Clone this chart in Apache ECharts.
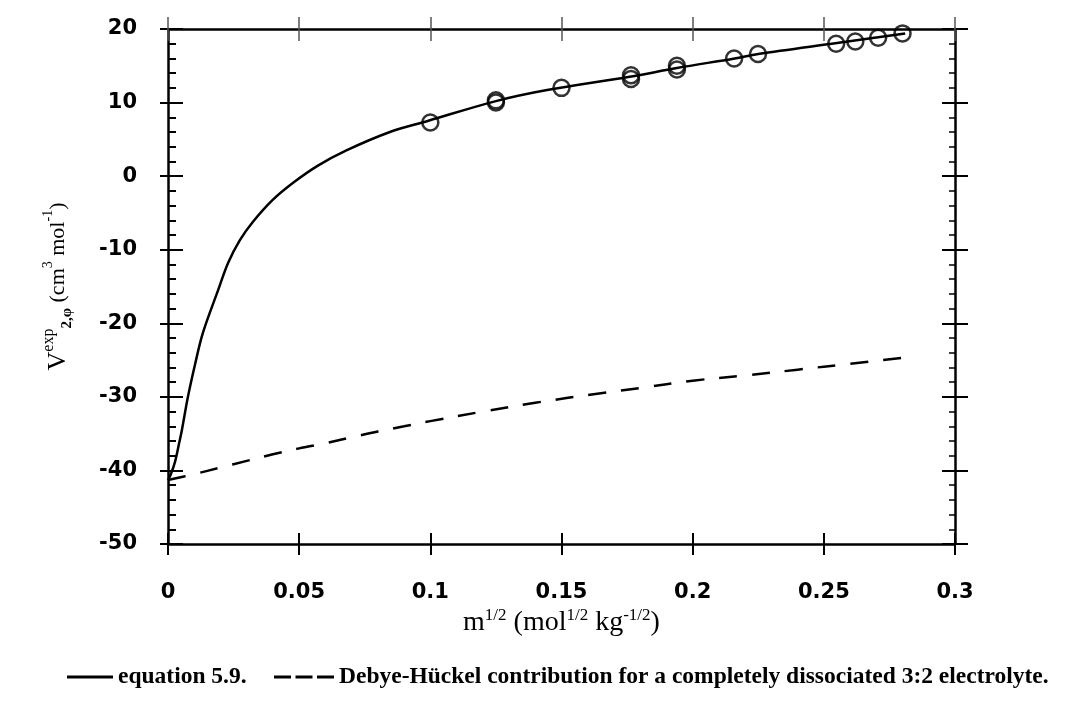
<!DOCTYPE html>
<html>
<head>
<meta charset="utf-8">
<script src="https://cdn.jsdelivr.net/npm/echarts@6/dist/echarts.min.js"></script>
<style>
html,body{margin:0;padding:0;background:#fff;}
#chart{width:1075px;height:707px;}
</style>
</head>
<body>
<div id="chart"></div>
<script>
// ---- data ----
const solidName = 'equation 5.9.';
const dashName = 'Debye-Hückel contribution for a completely dissociated 3:2 electrolyte.';

const solidX = [0, 0.001, 0.0027, 0.004, 0.0053, 0.0076, 0.0103, 0.0133, 0.0191, 0.0229, 0.0274, 0.0324, 0.040, 0.0477, 0.057, 0.068, 0.0846, 0.099, 0.125, 0.1445, 0.176, 0.194, 0.216, 0.225, 0.255, 0.281];
const solidY = [-41.3, -40.6, -38.8, -36.7, -34.5, -30.0, -25.6, -21.3, -15.5, -11.8, -8.7, -6.2, -3.2, -0.9, 1.4, 3.5, 6.0, 7.5, 10.2, 11.7, 13.5, 14.7, 16.0, 16.6, 18.1, 19.4];

const dashX = [0, 0.01, 0.02, 0.03, 0.04, 0.05, 0.06, 0.07, 0.08, 0.09, 0.10, 0.12, 0.14, 0.165, 0.18, 0.20, 0.22, 0.24, 0.26, 0.28];
const dashY = [-41.3, -40.5, -39.6, -38.7, -37.8, -37.0, -36.3, -35.5, -34.7, -34.0, -33.3, -32.0, -30.8, -29.5, -28.8, -27.8, -27.1, -26.3, -25.5, -24.7];

const pointX = [0.1, 0.125, 0.125, 0.15, 0.1765, 0.1765, 0.194, 0.194, 0.2158, 0.2249, 0.2547, 0.262, 0.2707, 0.280];
const pointY = [7.3, 10.0, 10.3, 12.0, 13.2, 13.7, 14.5, 15.0, 16.0, 16.6, 18.0, 18.3, 18.8, 19.4];

const xTickLabels = ['0', '0.05', '0.1', '0.15', '0.2', '0.25', '0.3'];
const yTickLabels = ['-50', '-40', '-30', '-20', '-10', '0', '10', '20'];

const zip = (a, b) => a.map((v, i) => [v, b[i]]);

const serif = 'Liberation Serif';
const sans = 'DejaVu Sans';

const xBase = {type: 'value', min: 0, max: 0.3, interval: 0.05, splitLine: {show: false}};
const yBase = {type: 'value', min: -50, max: 20, interval: 10, splitLine: {show: false}};
const axisLine = {show: true, onZero: false, lineStyle: {color: '#000', width: 2.5}};
const noLine = {show: false, onZero: false};

const legendText = {fontFamily: serif, fontWeight: 'bold', fontSize: 23.5, color: '#000'};

const chart = echarts.init(document.getElementById('chart'));
chart.setOption({
  animation: false,
  backgroundColor: '#fff',
  grid: {left: 168, right: 120, top: 29, bottom: 163, containLabel: false},
  legend: [
    {
      left: 67, top: 665, padding: 0, itemWidth: 46, itemHeight: 3, selectedMode: false,
      data: [{name: solidName, icon: 'path://M0,0H46V3H0Z'}],
      textStyle: legendText
    },
    {
      left: 274, top: 665, padding: 0, itemWidth: 60, itemHeight: 3, selectedMode: false,
      data: [{name: dashName, icon: 'path://M0,0H17V3H0Z M21.5,0H38.5V3H21.5Z M43,0H60V3H43Z'}],
      textStyle: legendText
    }
  ],
  xAxis: [
    Object.assign({}, xBase, {
      position: 'bottom',
      axisLine: axisLine,
      axisTick: {show: true, inside: true, length: 11, lineStyle: {color: '#000', width: 2}},
      axisLabel: {
        margin: 38, color: '#000', fontFamily: sans, fontWeight: 'bold', fontSize: 21,
        formatter: v => xTickLabels[Math.round(v / 0.05)]
      },
      name: '{n|m}{s|1/2}{n| (mol}{s|1/2}{n| kg}{s|-1/2}{n|)}',
      nameLocation: 'middle', nameGap: 63, nameMoveOverlap: false,
      nameTextStyle: {
        fontFamily: serif, fontSize: 28, color: '#000',
        rich: {
          n: {fontFamily: serif, fontSize: 28, lineHeight: 32, color: '#000'},
          s: {fontFamily: serif, fontSize: 17, lineHeight: 18, verticalAlign: 'top', color: '#000'}
        }
      }
    }),
    Object.assign({}, xBase, {
      position: 'bottom', axisLine: noLine,
      axisTick: {show: true, inside: false, length: 11, lineStyle: {color: '#000', width: 2}},
      axisLabel: {show: false}
    }),
    Object.assign({}, xBase, {
      position: 'top', axisLine: axisLine,
      axisTick: {show: true, inside: true, length: 12, lineStyle: {color: '#555', width: 1.5}},
      axisLabel: {show: false}
    }),
    Object.assign({}, xBase, {
      position: 'top', axisLine: noLine,
      axisTick: {show: true, inside: false, length: 12, lineStyle: {color: '#555', width: 1.5}},
      axisLabel: {show: false}
    })
  ],
  yAxis: [
    Object.assign({}, yBase, {
      position: 'left',
      axisLine: axisLine,
      axisTick: {show: true, inside: true, length: 15, lineStyle: {color: '#000', width: 2}},
      minorTick: {show: true, splitNumber: 5, length: 8, lineStyle: {color: '#000', width: 2}},
      axisLabel: {
        margin: 31, color: '#000', fontFamily: sans, fontWeight: 'bold', fontSize: 21,
        formatter: v => yTickLabels[Math.round((v + 50) / 10)]
      },
      name: '{v|V}{sp|exp}{sb|2,φ}{n| (cm}{s|3}{n| mol}{s|-1}{n|)}',
      nameLocation: 'middle', nameGap: 93, nameMoveOverlap: false,
      nameTextStyle: {
        fontFamily: serif, fontSize: 22, color: '#000',
        rich: {
          v: {fontFamily: serif, fontSize: 26, lineHeight: 34, color: '#000'},
          n: {fontFamily: serif, fontSize: 22, lineHeight: 34, color: '#000'},
          sp: {fontFamily: serif, fontSize: 16, lineHeight: 17, verticalAlign: 'top', color: '#000'},
          sb: {fontFamily: serif, fontSize: 15, fontWeight: 'bold', lineHeight: 17, verticalAlign: 'bottom', color: '#000'},
          s: {fontFamily: serif, fontSize: 14, lineHeight: 17, verticalAlign: 'top', color: '#000'}
        }
      }
    }),
    Object.assign({}, yBase, {
      position: 'left', axisLine: noLine,
      axisTick: {show: true, inside: false, length: 8, lineStyle: {color: '#000', width: 2}},
      axisLabel: {show: false}
    }),
    Object.assign({}, yBase, {
      position: 'right', axisLine: axisLine,
      axisTick: {show: true, inside: true, length: 13, lineStyle: {color: '#000', width: 2}},
      minorTick: {show: true, splitNumber: 5, length: 6, lineStyle: {color: '#000', width: 1.5}},
      axisLabel: {show: false}
    }),
    Object.assign({}, yBase, {
      position: 'right', axisLine: noLine,
      axisTick: {show: true, inside: false, length: 13, lineStyle: {color: '#000', width: 2}},
      axisLabel: {show: false}
    })
  ],
  series: [
    {
      name: solidName, type: 'line', xAxisIndex: 0, yAxisIndex: 0,
      data: zip(solidX, solidY), showSymbol: false, symbol: 'none',
      smooth: 0.35,
      lineStyle: {color: '#000', width: 2.5, type: 'solid'},
      itemStyle: {color: '#000'}
    },
    {
      name: dashName, type: 'line', xAxisIndex: 0, yAxisIndex: 0,
      data: zip(dashX, dashY), showSymbol: false, symbol: 'none',
      smooth: 0.35,
      lineStyle: {color: '#000', width: 2.5, type: [18, 15]},
      itemStyle: {color: '#000'}
    },
    {
      name: 'data', type: 'scatter', xAxisIndex: 0, yAxisIndex: 0,
      data: zip(pointX, pointY), symbol: 'circle', symbolSize: 16,
      itemStyle: {color: 'rgba(0,0,0,0)', borderColor: '#000', borderWidth: 2.5}
    }
  ]
});
</script>
</body>
</html>
